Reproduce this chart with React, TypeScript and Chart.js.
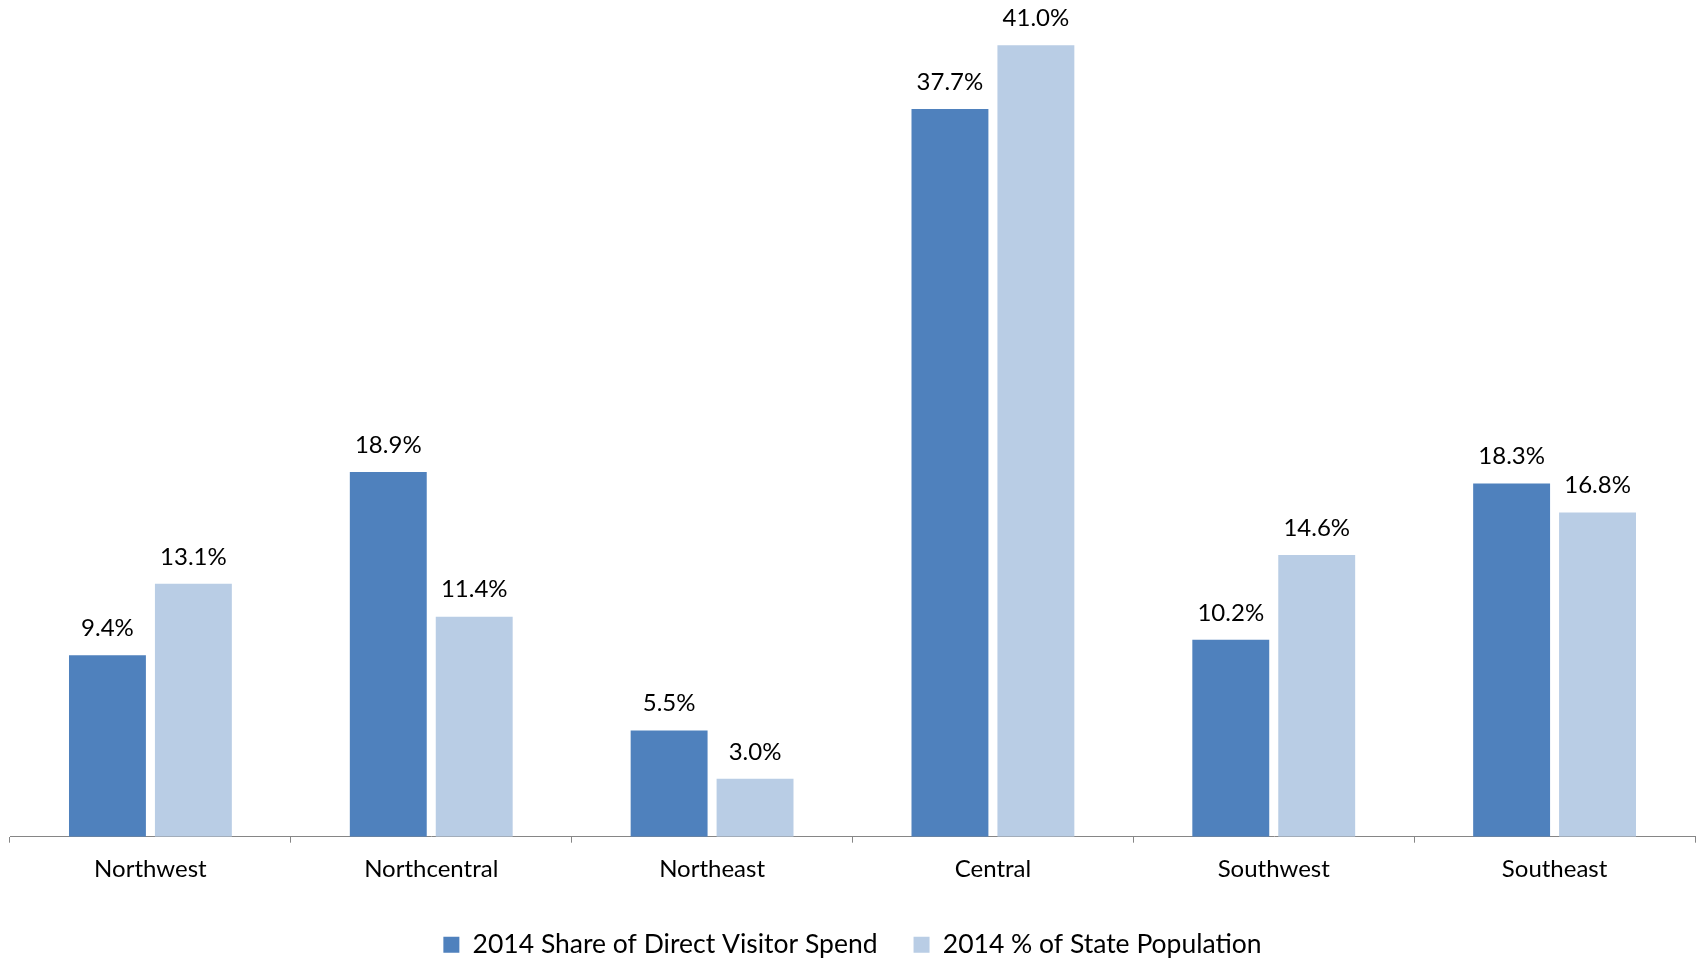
import React, { useEffect, useRef } from "react";
import { Chart, registerables } from "chart.js";

Chart.register(...registerables);

const categories = ["Northwest", "Northcentral", "Northeast", "Central", "Southwest", "Southeast"];
const visitorSpend = [9.4, 18.9, 5.5, 37.7, 10.2, 18.3];
const statePopulation = [13.1, 11.4, 3.0, 41.0, 14.6, 16.8];
const seriesNames = ["2014 Share of Direct Visitor Spend", "2014 % of State Population"];

const FONT = "Lato, 'Open Sans', sans-serif";
const W = 1700;
const H = 968;

const valueLabels = {
  id: "valueLabels",
  afterDatasetsDraw(chart: any) {
    const ctx = chart.ctx;
    ctx.save();
    ctx.font = `24px ${FONT}`;
    ctx.fillStyle = "#000000";
    ctx.textAlign = "center";
    ctx.textBaseline = "middle";
    chart.data.datasets.forEach((ds: any, i: number) => {
      const meta = chart.getDatasetMeta(i);
      meta.data.forEach((bar: any, j: number) => {
        ctx.fillText(Number(ds.data[j]).toFixed(1) + "%", bar.x, bar.y - 27);
      });
    });
    ctx.restore();
  },
};

export default function App() {
  const ref = useRef<HTMLCanvasElement>(null);
  useEffect(() => {
    const chart = new Chart(ref.current!, {
      type: "bar",
      data: {
        labels: categories,
        datasets: [
          { label: seriesNames[0], data: visitorSpend, backgroundColor: "#4F81BD" },
          { label: seriesNames[1], data: statePopulation, backgroundColor: "#B9CDE5" },
        ],
      },
      options: {
        animation: false,
        responsive: false,
        maintainAspectRatio: false,
        layout: { padding: { left: 10, right: 5, top: 0, bottom: 0 } },
        datasets: { bar: { categoryPercentage: 0.612, barPercentage: 0.895 } },
        scales: {
          x: {
            grid: {
              offset: true,
              drawOnChartArea: false,
              drawTicks: true,
              tickLength: 6,
              color: "#868686",
            },
            border: { color: "#868686", width: 1 },
            ticks: { color: "#000000", font: { family: FONT, size: 24 }, padding: 12 },
          },
          y: { display: false, min: 0, max: 43.35 },
        },
        plugins: {
          legend: {
            position: "bottom",
            labels: {
              boxWidth: 16,
              boxHeight: 16,
              color: "#000000",
              font: { family: FONT, size: 26.5 },
              padding: 36,
            },
          },
          tooltip: { enabled: false },
        },
      },
      plugins: [valueLabels],
    });
    return () => chart.destroy();
  }, []);
  return (
    <div style={{ position: "fixed", left: 0, top: 0, width: W, height: H, background: "#fff" }}>
      <canvas ref={ref} width={W} height={H} style={{ width: W, height: H, display: "block" }} />
    </div>
  );
}
